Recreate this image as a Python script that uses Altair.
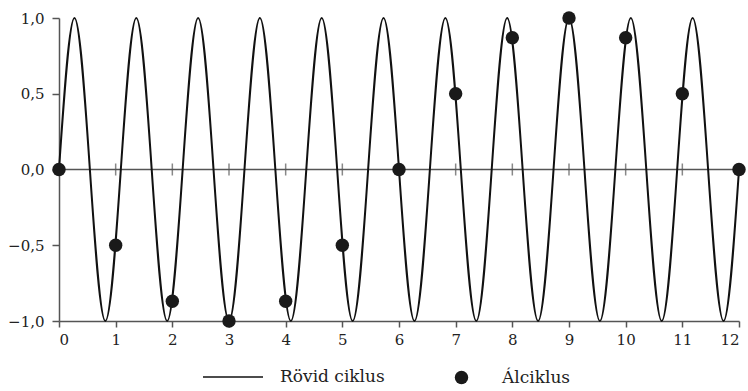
import altair as alt
import pandas as pd

# Key points of the short-cycle curve
zero_x = [0, 0.545, 1.091, 1.636, 2.182, 2.727, 3.273, 3.818, 4.364, 4.909, 5.455,
          6.0, 6.545, 7.091, 7.636, 8.182, 8.727, 9.273, 9.818, 10.364, 10.909, 11.455, 12.0]
peak_x = [0.273, 1.364, 2.455, 3.545, 4.636, 5.727, 6.818, 7.909, 9.0, 10.091, 11.182]
trough_x = [0.818, 1.909, 3.0, 4.091, 5.182, 6.273, 7.364, 8.455, 9.545, 10.636, 11.727]

# Sampled points (alias cycle)
sample_x = [0, 1, 2, 3, 4, 5, 6, 7, 8, 9, 10, 11, 12]
sample_y = [0, -0.5, -0.87, -1, -0.87, -0.5, 0, 0.5, 0.87, 1, 0.87, 0.5, 0]

tick_x = [1, 2, 3, 4, 5, 6, 7, 8, 9, 10, 11]
y_ticks = [-1, -0.5, 0, 0.5, 1]
x_ticks = list(range(13))

line_name = "Rövid ciklus"
dot_name = "Álciklus"

FONT = "DejaVu Serif"
AXIS_COLOR = "#555555"

curve = pd.DataFrame(
    [(x, 0.0) for x in zero_x] + [(x, 1.0) for x in peak_x] + [(x, -1.0) for x in trough_x],
    columns=["x", "y"],
).sort_values("x")
curve["s"] = line_name

dots = pd.DataFrame({"x": sample_x, "y": sample_y, "s": dot_name})
zero_df = pd.DataFrame({"x0": [0], "x1": [12], "y": [0]})
ticks_df = pd.DataFrame({"x": tick_x, "y": [0] * len(tick_x)})

xscale = alt.Scale(domain=[0, 12], nice=False, zero=False)
yscale = alt.Scale(domain=[-1, 1], nice=False)

xaxis = alt.Axis(values=x_ticks, title=None, grid=False, tickSize=6, labelPadding=5,
                 format="d", labelFont=FONT, labelFontSize=15)
yaxis = alt.Axis(values=y_ticks, title=None, grid=False, tickSize=7, labelPadding=8,
                 labelFont=FONT, labelFontSize=15,
                 labelExpr="replace(format(datum.value, '.1f'), '.', ',')")

zero_line = alt.Chart(zero_df).mark_rule(color=AXIS_COLOR, strokeWidth=1.5).encode(
    x=alt.X("x0:Q", scale=xscale, axis=xaxis),
    x2="x1:Q",
    y=alt.Y("y:Q", scale=yscale, axis=yaxis),
)

zero_ticks = alt.Chart(ticks_df).mark_tick(orient="vertical", size=12, thickness=1.5,
                                           color=AXIS_COLOR).encode(
    x=alt.X("x:Q", scale=xscale, axis=xaxis),
    y=alt.Y("y:Q", scale=yscale, axis=yaxis),
)

line = alt.Chart(curve).mark_line(interpolate="natural", strokeWidth=2).encode(
    x=alt.X("x:Q", scale=xscale, axis=xaxis),
    y=alt.Y("y:Q", scale=yscale, axis=yaxis),
    color=alt.Color("s:N", scale=alt.Scale(domain=[line_name], range=["#111111"]),
                    legend=alt.Legend(orient="none", legendX=143, legendY=328, title=None,
                                      symbolType="stroke", symbolSize=3600,
                                      symbolStrokeWidth=1.5, labelOffset=16,
                                      labelFont=FONT, labelFontSize=17,
                                      labelColor="#222", padding=0)),
)

points = alt.Chart(dots).mark_point(filled=True, size=180, opacity=1).encode(
    x=alt.X("x:Q", scale=xscale, axis=xaxis),
    y=alt.Y("y:Q", scale=yscale, axis=yaxis),
    shape=alt.Shape("s:N", scale=alt.Scale(domain=[dot_name], range=["circle"]),
                    legend=alt.Legend(orient="none", legendX=394, legendY=351, title=None,
                                      symbolSize=180, symbolFillColor="#1a1a1a",
                                      symbolStrokeColor="#1a1a1a", labelOffset=32,
                                      labelFont=FONT, labelFontSize=17,
                                      labelColor="#222", padding=0)),
    color=alt.value("#1a1a1a"),
)

chart = (
    alt.layer(zero_line, zero_ticks, line, points)
    .properties(
        width=680, height=303,
        autosize=alt.AutoSizeParams(type="none"),
        padding={"left": 59, "top": 18, "right": 9, "bottom": 70},
    )
    .resolve_legend(color="independent", shape="independent")
    .configure(font=FONT)
    .configure_view(stroke=None)
    .configure_axis(labelFont=FONT, labelColor="#222",
                    domainColor=AXIS_COLOR, tickColor=AXIS_COLOR,
                    domainWidth=1.5, tickWidth=1.5)
    .configure_legend(labelFont=FONT, labelColor="#222")
)

chart.save("out.html", embed_options={"renderer": "svg", "actions": False})
